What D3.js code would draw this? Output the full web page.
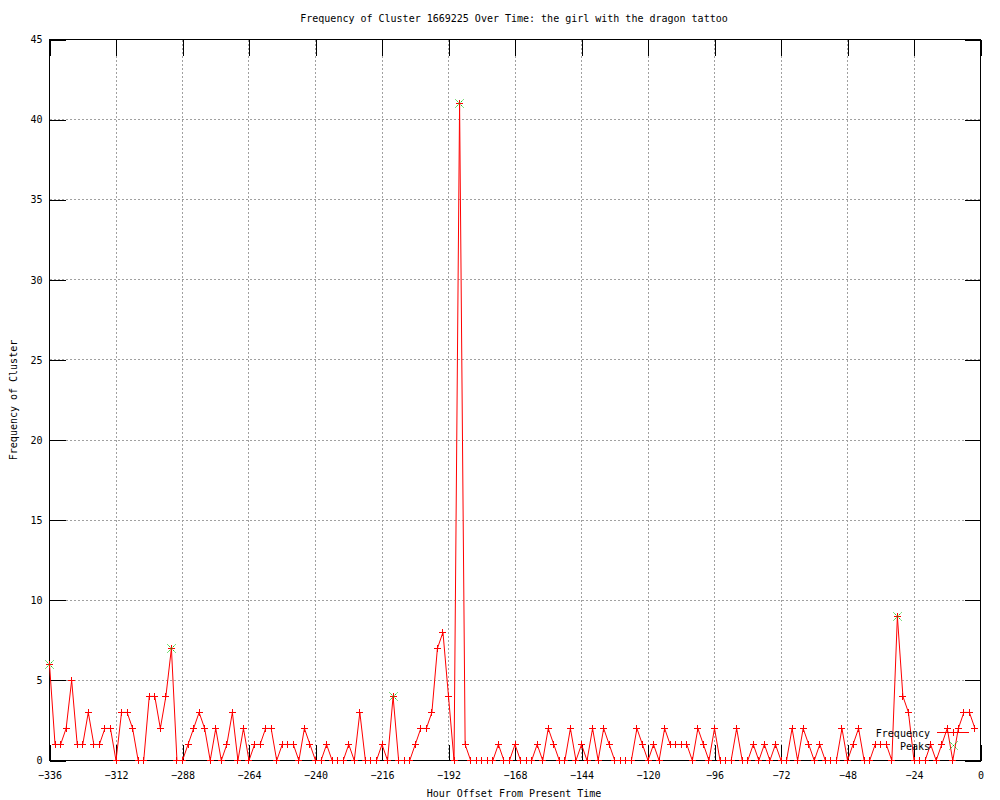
<!DOCTYPE html>
<html>
<head>
<meta charset="utf-8">
<script src="https://cdn.jsdelivr.net/npm/d3@7"></script>
<style>
  body { margin: 0; background: #fff; }
  svg text { font-family: "DejaVu Sans Mono", monospace; font-size: 10px; fill: #000; }
</style>
</head>
<body>
<div id="chart"></div>
<script>
const width = 1000
const height = 800
const plot = { left: 49.5, right: 980.5, top: 39.5, bottom: 760.5 }
const tickLen = 16

// one reading every 2 hours, from -336 to -2
const hours = d3.range(-336, 0, 2)
const frequency = [
  6, 1, 1, 2, 5, 1, 1, 3, 1, 1, 2, 2, 0, 3, 3, 2, 0, 0, 4, 4,
  2, 4, 7, 0, 0, 1, 2, 3, 2, 0, 2, 0, 1, 3, 0, 2, 0, 1, 1, 2,
  2, 0, 1, 1, 1, 0, 2, 1, 0, 0, 1, 0, 0, 0, 1, 0, 3, 0, 0, 0,
  1, 0, 4, 0, 0, 0, 1, 2, 2, 3, 7, 8, 4, 0, 41, 1, 0, 0, 0, 0,
  0, 1, 0, 0, 1, 0, 0, 0, 1, 0, 2, 1, 0, 0, 2, 0, 1, 0, 2, 0,
  2, 1, 0, 0, 0, 0, 2, 1, 0, 1, 0, 2, 1, 1, 1, 1, 0, 2, 1, 0,
  2, 0, 0, 0, 2, 0, 0, 1, 0, 1, 0, 1, 0, 0, 2, 0, 2, 1, 0, 1,
  0, 0, 0, 2, 0, 1, 2, 0, 0, 1, 1, 1, 0, 9, 4, 3, 0, 0, 0, 1,
  0, 1, 2, 0, 2, 3, 3, 2
]
const peakHours = [-336, -292, -212, -188, -30]
const peakValues = [6, 7, 4, 41, 9]
const xTicks = [-336, -312, -288, -264, -240, -216, -192, -168, -144, -120, -96, -72, -48, -24, 0]
const yTicks = [0, 5, 10, 15, 20, 25, 30, 35, 40, 45]

const series = hours.map((h, i) => ({ h: h, v: frequency[i] }))
const peaks = peakHours.map((h, i) => ({ h: h, v: peakValues[i] }))

var xScale = d3.scaleLinear([-336, 0], [plot.left, plot.right])
var yScale = d3.scaleLinear([0, 45], [plot.bottom, plot.top])

// snap to pixel centres so the 1px markers stay sharp
const snap = (v) => Math.round(v - 0.5) + 0.5

const plusPath = "M-3.5,0H3.5M0,-3.5V3.5"
const crossPath = "M-4,-4L4,4M-4,4L4,-4"

function drawChart() {
  var svg = d3
    .select("#chart")
    .append("svg")
    .attr("width", width)
    .attr("height", height)

  // Grid
  var grid = svg.append("g").attr("id", "grid")
    .style("stroke", "#a0a0a0")
    .style("stroke-width", "1px")
    .style("stroke-dasharray", "2,2")
    .attr("shape-rendering", "crispEdges")
  grid.selectAll("line.vx")
    .data(xTicks.slice(1, -1))
    .enter()
    .append("line")
    .attr("x1", (d) => snap(xScale(d)))
    .attr("x2", (d) => snap(xScale(d)))
    .attr("y1", plot.top)
    .attr("y2", plot.bottom)
  grid.selectAll("line.hy")
    .data(yTicks.slice(1, -1))
    .enter()
    .append("line")
    .attr("x1", plot.left)
    .attr("x2", plot.right)
    .attr("y1", (d) => snap(yScale(d)))
    .attr("y2", (d) => snap(yScale(d)))

  // Axes, ticks pointing inwards like gnuplot
  var xAxis = d3.axisBottom(xScale).tickValues(xTicks).tickSizeInner(-tickLen).tickSizeOuter(0).tickPadding(11)
  var yAxis = d3.axisLeft(yScale).tickValues(yTicks).tickSizeInner(-tickLen).tickSizeOuter(0).tickPadding(7)
  var xTop = d3.axisTop(xScale).tickValues(xTicks).tickSizeInner(-tickLen).tickSizeOuter(0).tickFormat("")
  var yRight = d3.axisRight(yScale).tickValues(yTicks).tickSizeInner(-tickLen).tickSizeOuter(0).tickFormat("")

  const axes = [
    [xAxis, `translate(0,${plot.bottom})`],
    [yAxis, `translate(${plot.left},0)`],
    [xTop, `translate(0,${plot.top})`],
    [yRight, `translate(${plot.right},0)`],
  ]
  axes.forEach(([axis, tr]) => {
    var g = svg.append("g")
      .attr("transform", tr)
      .attr("shape-rendering", "crispEdges")
      .call(axis)
    g.attr("font-family", null).attr("font-size", null)
    g.select(".domain").remove()
    g.selectAll(".tick line").attr("stroke", "#000")
  })

  // Border
  svg.append("rect")
    .attr("x", plot.left)
    .attr("y", plot.top)
    .attr("width", plot.right - plot.left)
    .attr("height", plot.bottom - plot.top)
    .attr("fill", "none")
    .attr("stroke", "#000")
    .attr("shape-rendering", "crispEdges")

  // Frequency line
  var line = d3.line().x((d) => xScale(d.h)).y((d) => yScale(d.v))
  svg.append("path")
    .datum(series)
    .attr("d", line)
    .attr("fill", "none")
    .attr("stroke", "#ff0000")
    .attr("stroke-width", 1)

  svg.append("g")
    .selectAll("path")
    .data(series)
    .enter()
    .append("path")
    .attr("d", plusPath)
    .attr("transform", (d) => `translate(${snap(xScale(d.h))},${snap(yScale(d.v))})`)
    .attr("stroke", "#ff0000")
    .attr("shape-rendering", "crispEdges")

  // Peaks
  svg.append("g")
    .selectAll("path")
    .data(peaks)
    .enter()
    .append("path")
    .attr("d", crossPath)
    .attr("transform", (d) => `translate(${snap(xScale(d.h))},${snap(yScale(d.v))})`)
    .attr("stroke", "#00c000")
    .attr("stroke-dasharray", "1.5,1")

  // Titles
  svg.append("text")
    .attr("x", 514)
    .attr("y", 22)
    .attr("text-anchor", "middle")
    .text("Frequency of Cluster 1669225 Over Time: the girl with the dragon tattoo")
  svg.append("text")
    .attr("x", 514)
    .attr("y", 797)
    .attr("text-anchor", "middle")
    .text("Hour Offset From Present Time")
  svg.append("text")
    .attr("transform", "translate(17,400) rotate(-90)")
    .attr("text-anchor", "middle")
    .text("Frequency of Cluster")

  // Legend
  var legend = svg.append("g").attr("id", "legend")
  legend.append("text").attr("x", 930).attr("y", 737).attr("text-anchor", "end").text("Frequency")
  legend.append("text").attr("x", 930).attr("y", 750).attr("text-anchor", "end").text("Peaks")
  legend.append("line")
    .attr("x1", 937).attr("x2", 969).attr("y1", 732.5).attr("y2", 732.5)
    .attr("stroke", "#ff0000")
  legend.append("path").attr("d", plusPath).attr("transform", "translate(953.5,732.5)")
    .attr("stroke", "#ff0000").attr("shape-rendering", "crispEdges")
  legend.append("path").attr("d", crossPath).attr("transform", "translate(953.5,745.5)")
    .attr("stroke", "#00c000").attr("stroke-dasharray", "1.5,1")
}

drawChart()
</script>
</body>
</html>
